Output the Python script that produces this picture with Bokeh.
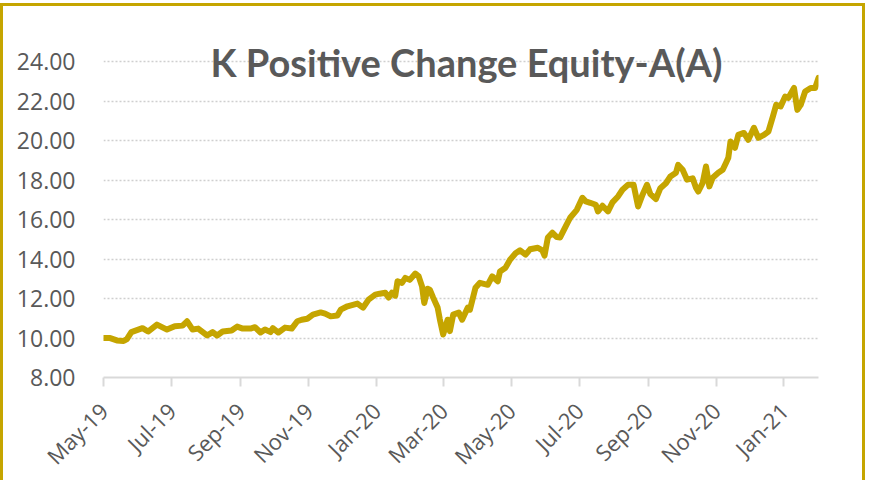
import math
import pandas as pd
from bokeh.plotting import figure
from bokeh.models import (Label, FixedTicker, DatetimeTickFormatter, Range1d,
                          NumeralTickFormatter)
from bokeh.embed import file_html
from bokeh.resources import INLINE

# ---- data ----
dates = [
    "2019-05-01", "2019-05-07", "2019-05-13", "2019-05-19", "2019-05-22", "2019-05-26",
    "2019-06-05", "2019-06-10", "2019-06-18", "2019-06-27", "2019-07-04", "2019-07-11",
    "2019-07-15", "2019-07-20", "2019-07-25", "2019-08-02", "2019-08-07", "2019-08-11",
    "2019-08-16", "2019-08-24", "2019-08-29", "2019-09-03", "2019-09-10", "2019-09-14",
    "2019-09-19", "2019-09-23", "2019-09-28", "2019-09-30", "2019-10-05", "2019-10-11",
    "2019-10-17", "2019-10-22", "2019-10-26", "2019-10-31", "2019-11-05", "2019-11-12",
    "2019-11-16", "2019-11-21", "2019-11-27", "2019-11-30", "2019-12-06", "2019-12-15",
    "2019-12-20", "2019-12-25", "2019-12-31", "2020-01-04", "2020-01-09", "2020-01-12",
    "2020-01-15", "2020-01-18", "2020-01-20", "2020-01-24", "2020-01-27", "2020-01-31",
    "2020-02-05", "2020-02-08", "2020-02-11", "2020-02-13", "2020-02-16", "2020-02-18",
    "2020-02-21", "2020-02-25", "2020-02-27", "2020-03-01", "2020-03-05", "2020-03-07",
    "2020-03-10", "2020-03-15", "2020-03-18", "2020-03-23", "2020-03-25", "2020-03-30",
    "2020-04-03", "2020-04-10", "2020-04-14", "2020-04-19", "2020-04-21", "2020-04-26",
    "2020-04-30", "2020-05-05", "2020-05-09", "2020-05-14", "2020-05-18", "2020-05-25",
    "2020-05-29", "2020-05-31", "2020-06-03", "2020-06-07", "2020-06-11", "2020-06-14",
    "2020-06-19", "2020-06-23", "2020-06-29", "2020-07-04", "2020-07-07", "2020-07-11",
    "2020-07-16", "2020-07-18", "2020-07-22", "2020-07-27", "2020-07-31", "2020-08-05",
    "2020-08-09", "2020-08-14", "2020-08-19", "2020-08-23", "2020-08-27", "2020-08-31",
    "2020-09-03", "2020-09-08", "2020-09-12", "2020-09-17", "2020-09-21", "2020-09-26",
    "2020-09-28", "2020-10-02", "2020-10-06", "2020-10-11", "2020-10-14", "2020-10-16",
    "2020-10-20", "2020-10-23", "2020-10-26", "2020-10-29", "2020-11-03", "2020-11-07",
    "2020-11-10", "2020-11-12", "2020-11-14", "2020-11-18", "2020-11-21", "2020-11-26",
    "2020-11-30", "2020-12-05", "2020-12-09", "2020-12-14", "2020-12-18", "2020-12-22",
    "2020-12-25", "2020-12-29", "2021-01-02", "2021-01-05", "2021-01-10", "2021-01-13",
    "2021-01-16", "2021-01-20", "2021-01-25", "2021-01-29", "2021-02-01",
]
nav = [
    10.00, 10.00, 9.88, 9.85, 9.95, 10.30,
    10.50, 10.33, 10.68, 10.43, 10.60, 10.63,
    10.85, 10.43, 10.48, 10.13, 10.30, 10.13,
    10.33, 10.38, 10.58, 10.48, 10.48, 10.55,
    10.28, 10.43, 10.30, 10.50, 10.28, 10.53,
    10.48, 10.85, 10.93, 10.98, 11.19, 11.30,
    11.24, 11.10, 11.14, 11.44, 11.61, 11.75,
    11.54, 11.95, 12.20, 12.25, 12.30, 12.05,
    12.30, 12.15, 12.88, 12.80, 13.05, 12.95,
    13.27, 13.13, 12.62, 11.78, 12.50, 12.45,
    12.05, 11.55, 10.95, 10.18, 10.93, 10.35,
    11.19, 11.29, 10.93, 11.54, 11.44, 12.55,
    12.80, 12.70, 13.13, 12.88, 13.38, 13.57,
    13.97, 14.30, 14.45, 14.23, 14.50, 14.58,
    14.45, 14.18, 15.10, 15.34, 15.12, 15.10,
    15.66, 16.10, 16.50, 17.11, 16.93, 16.86,
    16.76, 16.42, 16.71, 16.42, 16.88, 17.18,
    17.52, 17.77, 17.77, 16.67, 17.27, 17.77,
    17.30, 17.05, 17.60, 17.85, 18.19, 18.38,
    18.78, 18.53, 18.03, 18.10, 17.62, 17.43,
    17.87, 18.70, 17.69, 18.13, 18.38, 18.53,
    18.89, 19.14, 19.97, 19.65, 20.30, 20.40,
    20.05, 20.66, 20.15, 20.30, 20.47, 21.23,
    21.82, 21.74, 22.24, 22.18, 22.68, 21.57,
    21.82, 22.50, 22.68, 22.68, 23.19,
]
tick_months = ["2019-05-01", "2019-07-01", "2019-09-01", "2019-11-01", "2020-01-01",
               "2020-03-01", "2020-05-01", "2020-07-01", "2020-09-01", "2020-11-01",
               "2021-01-01"]
y_ticks = [8, 10, 12, 14, 16, 18, 20, 22, 24]
title_text = "K Positive Change Equity-A(A)"

GOLD = "#C5A500"
GREY = "#595959"

x = pd.to_datetime(dates)
tick_ms = [pd.Timestamp(t).value // 10**6 for t in tick_months]

p = figure(width=865, height=477, x_axis_type="datetime", output_backend="svg",
           toolbar_location=None, title=None,
           x_range=Range1d(pd.Timestamp("2019-05-01"), pd.Timestamp("2021-02-01")),
           y_range=Range1d(8, 26),
           min_border_left=100, min_border_right=50, min_border_top=16,
           min_border_bottom=105)
p.styles = {"border-left": f"3px solid {GOLD}", "border-top": f"3px solid {GOLD}",
            "border-right": f"3px solid {GOLD}", "margin-top": "3px"}
p.outline_line_color = None
p.background_fill_color = "white"
p.border_fill_color = "white"

p.line(x, nav, line_color=GOLD, line_width=6, line_join="round", line_cap="round")

# axes
p.xgrid.visible = False
p.ygrid.ticker = FixedTicker(ticks=y_ticks)
p.ygrid.grid_line_color = "#CFCFCF"
p.ygrid.grid_line_width = 1.5
p.ygrid.grid_line_dash = "2 2"

ya = p.yaxis[0]
ya.ticker = FixedTicker(ticks=y_ticks)
ya.formatter = NumeralTickFormatter(format="0.00")
ya.axis_line_color = None
ya.major_tick_line_color = None
ya.minor_tick_line_color = None
ya.major_label_text_font = "Open Sans"
ya.major_label_text_font_size = "23px"
ya.major_label_text_color = GREY
ya.major_label_standoff = 22

xa = p.xaxis[0]
xa.ticker = FixedTicker(ticks=tick_ms)
fmt = "%b-%y"
xa.formatter = DatetimeTickFormatter(months=fmt, days=fmt, years=fmt, hours=fmt,
                                     minutes=fmt, seconds=fmt, milliseconds=fmt,
                                     microseconds=fmt, minsec=fmt, hourmin=fmt)
xa.axis_line_color = "#D9D9D9"
xa.axis_line_width = 2
xa.major_tick_line_color = "#D9D9D9"
xa.major_tick_line_width = 2
xa.major_tick_out = 9
xa.major_tick_in = 0
xa.minor_tick_line_color = None
xa.major_label_orientation = math.pi / 4
xa.major_label_text_font = "Open Sans"
xa.major_label_text_font_size = "22px"
xa.major_label_text_color = GREY
xa.major_label_standoff = 20

title = Label(x=363, y=316, x_units="screen", y_units="screen", text=title_text,
              text_font="Lato", text_font_style="bold", text_font_size="38px",
              text_color=GREY, text_align="center", text_baseline="alphabetic")
p.add_layout(title)

open("out.html", "w").write(file_html(p, INLINE))
